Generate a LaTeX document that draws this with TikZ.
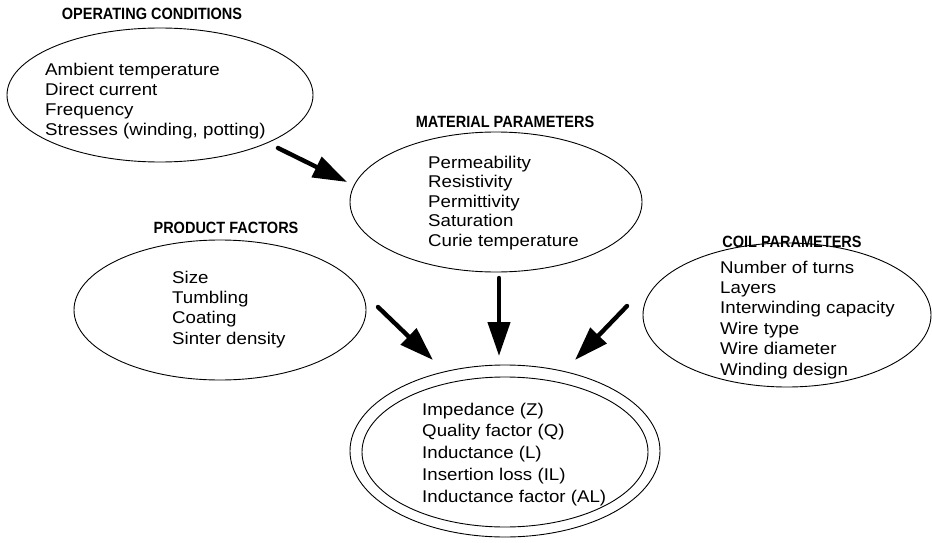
\documentclass[tikz,border=0pt]{standalone}
\usepackage{fontspec}
\setmainfont{Liberation Sans}[FakeStretch=1.1]
\newfontfamily\headfont{Liberation Sans}[FakeStretch=0.89]
\usetikzlibrary{arrows.meta,shapes.geometric}
\tikzset{
 chart/.style={line cap=round,line join=round},
 field/.style={ellipse,draw,line width=.9pt,inner sep=0pt},
 heading/.style={font=\headfont\bfseries\fontsize{16.3}{18}\selectfont,inner sep=0pt,anchor=base},
 items/.style={font=\fontsize{17}{#1}\selectfont,align=left,anchor=base west,inner sep=0pt},
 items/.default=19.7,
 push/.style={line width=4.4pt,-{Triangle[length=34pt,width=22pt]}}
}
\begin{document}
\begin{tikzpicture}[chart,x=1pt,y=-1pt]
 \useasboundingbox (0,0) rectangle (932,543);
 % the four groups of influences (lists placed by their last baseline)
 \node[field,minimum width=306pt,minimum height=134pt] (opc) at (160,95) {};
 \node[heading] (opcTitle) at (152,20) {OPERATING CONDITIONS};
 \node[items] (opcList) at (45,135) {Ambient temperature\\Direct current\\Frequency\\Stresses (winding, potting)};
 \node[field,minimum width=292pt,minimum height=140pt] (mat) at (496,202) {};
 \node[heading] (matTitle) at (505,127) {MATERIAL PARAMETERS};
 \node[items=19.5] (matList) at (428,246) {Permeability\\Resistivity\\Permittivity\\Saturation\\Curie temperature};
 \node[field,minimum width=292pt,minimum height=140pt] (prd) at (220,310) {};
 \node[heading] (prdTitle) at (226,233) {PRODUCT FACTORS};
 \node[items=20.3] (prdList) at (172,344) {Size\\Tumbling\\Coating\\Sinter density};
 \node[field,minimum width=288pt,minimum height=144pt] (coil) at (787,315) {};
 \node[heading] (coilTitle) at (792,247) {COIL PARAMETERS};
 \node[items=20.4] (coilList) at (720,375) {Number of turns\\Layers\\Interwinding capacity\\Wire type\\Wire diameter\\Winding design};
 % the resulting properties, double ring
 \node[field,minimum width=310pt,minimum height=172pt] (resOuter) at (505,451) {};
 \node[field,minimum width=286pt,minimum height=150pt] (resInner) at (505,452) {};
 \node[items=21.75] (resList) at (422,502) {Impedance (Z)\\Quality factor (Q)\\Inductance (L)\\Insertion loss (IL)\\Inductance factor (AL)};
 \coordinate (opcOut) at (278,148); \coordinate (matIn) at (347,182);
 \coordinate (prdOut) at (378,307); \coordinate (resInA) at (433,360);
 \coordinate (matOut) at (499,278); \coordinate (resInB) at (499,356);
 \coordinate (coilOut) at (627,306); \coordinate (resInC) at (575,360);
 \draw[push] (opcOut)--(matIn);
 \draw[push] (prdOut)--(resInA);
 \draw[push] (matOut)--(resInB);
 \draw[push] (coilOut)--(resInC);
\end{tikzpicture}
\end{document}
